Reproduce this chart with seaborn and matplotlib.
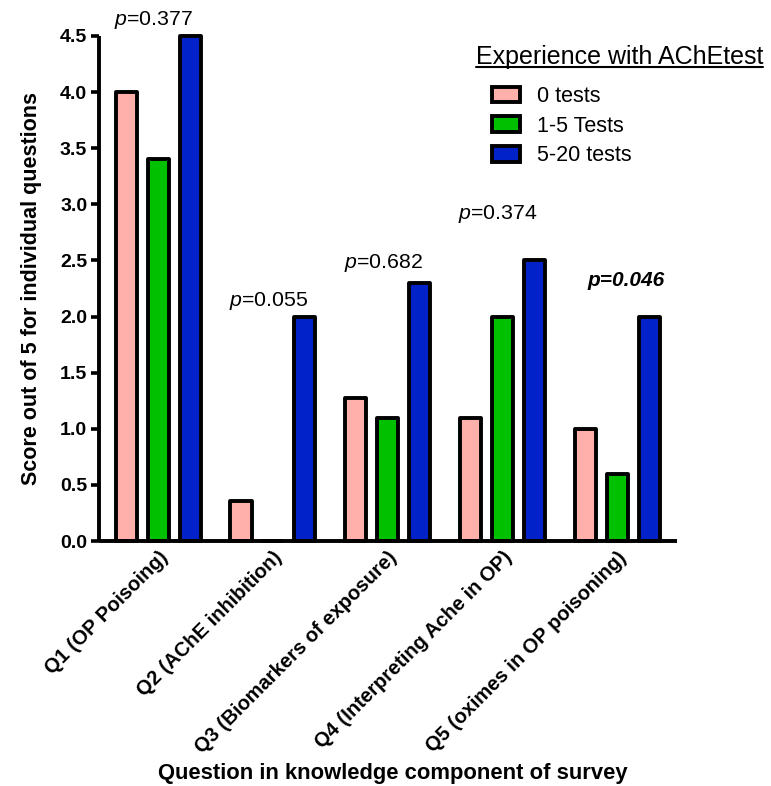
import matplotlib
matplotlib.use("Agg")
import matplotlib.pyplot as plt
from matplotlib.patches import Patch
from matplotlib.lines import Line2D
import seaborn as sns
import pandas as pd

# ---- data ----
questions = ["Q1 (OP Poisoing)", "Q2 (AChE inhibition)", "Q3 (Biomarkers of exposure)",
             "Q4 (Interpreting Ache in OP)", "Q5 (oximes in OP poisoning)"]
groups = ["0 tests", "1-5 Tests", "5-20 tests"]
scores_0 = [4.0, 0.36, 1.27, 1.1, 1.0]
scores_1_5 = [3.4, 0.0, 1.1, 2.0, 0.6]
scores_5_20 = [4.5, 2.0, 2.3, 2.5, 2.0]
p_values = ["0.377", "0.055", "0.682", "0.374", "0.046"]
p_significant = [False, False, False, False, True]
yticks = [0.0, 0.5, 1.0, 1.5, 2.0, 2.5, 3.0, 3.5, 4.0, 4.5]

colors = ["#FFB0AB", "#00C000", "#0022C8"]

rows = []
for g, vals in zip(groups, [scores_0, scores_1_5, scores_5_20]):
    for q, v in zip(questions, vals):
        rows.append({"question": q, "group": g, "score": v})
df = pd.DataFrame(rows)

sns.set_style("ticks")
plt.rcParams["font.family"] = ["Liberation Sans", "DejaVu Sans"]
plt.rcParams["mathtext.fontset"] = "custom"
plt.rcParams["mathtext.it"] = "Liberation Sans:italic"
plt.rcParams["mathtext.rm"] = "Liberation Sans"
for k in ["text.color", "axes.labelcolor", "xtick.color", "ytick.color", "axes.edgecolor"]:
    plt.rcParams[k] = "black"

W, H = 771, 786
fig = plt.figure(figsize=(W / 100, H / 100), dpi=100)
ax = fig.add_axes([99 / W, 1 - 541 / H, (677 - 99) / W, (541 - 36) / H])

sns.barplot(data=df, x="question", y="score", hue="group", order=questions,
            hue_order=groups, palette=colors, saturation=1, width=0.835, gap=0.34,
            edgecolor="black", linewidth=2.8, legend=False, ax=ax, errorbar=None)
for p in ax.patches:
    p.set_joinstyle("round")
    p.set_clip_on(False)

ax.set_xlim(-0.515, 4.52)
ax.set_ylim(0, 4.5)
ax.set_yticks(yticks)
ax.set_yticklabels([f"{t:.1f}" for t in yticks], fontsize=14, fontweight="bold")
ax.tick_params(axis="y", length=6, width=2.6, pad=2.5)
ax.tick_params(axis="x", length=0, pad=5)
for lab in ax.get_xticklabels():
    lab.set_rotation(45)
    lab.set_ha("right")
    lab.set_va("top")
    lab.set_rotation_mode("anchor")
    lab.set_fontsize(14.5)
    lab.set_fontweight("bold")
sns.despine(ax=ax)
for s in ["left", "bottom"]:
    ax.spines[s].set_linewidth(2.8)
    ax.spines[s].set_capstyle("butt")
ax.set_xlabel("")
ax.set_ylabel("Score out of 5 for individual questions", fontsize=15.5,
              fontweight="bold", labelpad=13)

fig.text(393 / W, 1 - 773 / H, "Question in knowledge component of survey",
         ha="center", va="center", fontsize=15.8, fontweight="bold")

# p-values
p_y = [4.64, 2.14, 2.48, 2.91, 2.32]
for i, (pv, sig, yy) in enumerate(zip(p_values, p_significant, p_y)):
    if sig:
        ax.text(i + 0.08, yy, f"p={pv}", ha="center", va="center", fontsize=15,
                fontweight="bold", style="italic")
    else:
        ax.text(i - 0.04, yy, r"$\mathit{p}$=" + pv, ha="center", va="center",
                fontsize=15.3)

# legend
handles = [Patch(facecolor=c, edgecolor="black", linewidth=2.8) for c in colors]
leg = fig.legend(handles, groups, loc="upper left",
                 bbox_to_anchor=(492 / W, 1 - 86 / H), frameon=False,
                 fontsize=15.5, handlelength=1.3, handleheight=0.75,
                 handletextpad=0.8, labelspacing=0.4, borderpad=0, borderaxespad=0)

title = fig.text(476 / W, 1 - 57 / H, "Experience with AChEtest", ha="left",
                 va="center", fontsize=18)
fig.canvas.draw()
bb = title.get_window_extent(renderer=fig.canvas.get_renderer())
fig.add_artist(Line2D([bb.x0 / W, bb.x1 / W],
                      [(bb.y0 + 2) / H, (bb.y0 + 2) / H], color="black",
                      linewidth=1.5, transform=fig.transFigure))

fig.savefig("out.png", dpi=100)
